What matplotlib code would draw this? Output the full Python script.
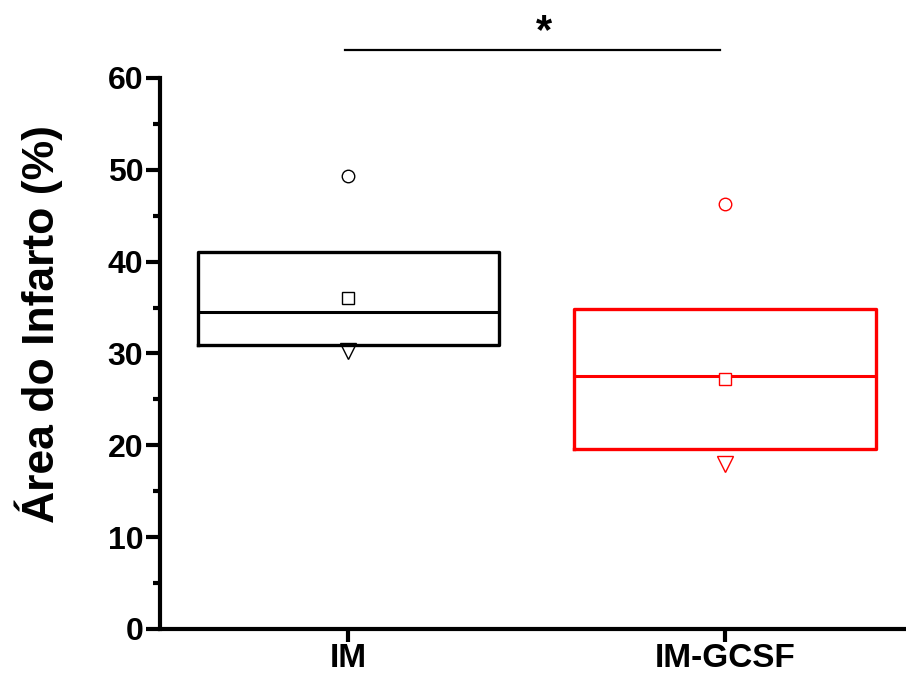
import matplotlib.pyplot as plt

plt.rcParams['font.family'] = ['Liberation Sans', 'DejaVu Sans']
plt.rcParams['font.weight'] = 'bold'

# Box plot summary values
categories = ['IM', 'IM-GCSF']
q1 = [30.9, 19.6]
q3 = [41.0, 34.85]
median = [34.5, 27.6]
mean = [36.0, 27.2]
maximum = [49.3, 46.3]
minimum = [30.3, 18.0]
colors = ['black', 'red']

fig = plt.figure(figsize=(9.06, 6.83), dpi=100)
ax = fig.add_axes([0.1766, 0.0791, 0.8234, 0.8067])

positions = [1, 2]
for i, pos in enumerate(positions):
    c = colors[i]
    stats = [{'med': median[i], 'q1': q1[i], 'q3': q3[i],
              'whislo': q1[i], 'whishi': q3[i], 'fliers': []}]
    ax.bxp(stats, positions=[pos], widths=0.8, showcaps=False,
           showfliers=False, manage_ticks=False,
           boxprops=dict(color=c, linewidth=2.4),
           medianprops=dict(color=c, linewidth=2.2),
           whiskerprops=dict(color=c, linewidth=1.0))
    ax.plot(pos, mean[i], 's', mfc='white', mec=c, ms=8, mew=1.0, zorder=5)
    ax.plot(pos, maximum[i], 'o', mfc='none', mec=c, ms=9, mew=1.0, zorder=5)
    ax.plot(pos, minimum[i], 'v', mfc='white', mec=c, ms=11, mew=1.0, zorder=1)

# significance bar
ax.plot([0.99, 1.987], [63.0, 63.0], color='black', lw=1.6, clip_on=False)
ax.text(1.52, 65.0, '*', ha='center', va='center', fontsize=30,
        fontweight='bold')

ax.set_xlim(0.5, 2.48)
ax.set_ylim(0, 60)
ax.set_xticks(positions)
ax.set_xticklabels(categories, fontsize=24, fontweight='bold')
ax.set_yticks(range(0, 61, 10))
ax.set_yticks(range(5, 60, 10), minor=True)
ax.tick_params(axis='y', labelsize=23, width=3, length=10, pad=2)
ax.tick_params(axis='y', which='minor', width=3, length=5)
ax.tick_params(axis='x', width=3, length=9, pad=1)
for lab in ax.get_yticklabels():
    lab.set_fontweight('bold')

for side in ['top', 'right']:
    ax.spines[side].set_visible(False)
for side in ['left', 'bottom']:
    ax.spines[side].set_linewidth(3)

ax.set_ylabel('Área do Infarto (%)', fontsize=32, fontweight='bold')
ax.yaxis.set_label_coords(-0.13, 0.553)

fig.savefig('out.png', dpi=100)
